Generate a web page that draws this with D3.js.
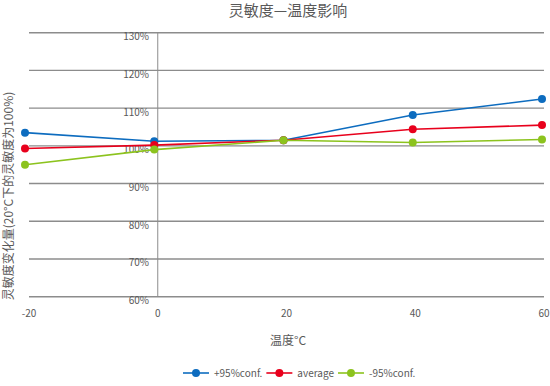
<!DOCTYPE html>
<html>
<head>
<meta charset="utf-8">
<script src="https://cdn.jsdelivr.net/npm/d3@7"></script>
<style>
  body { margin: 0; background: #fff; }
  svg { display: block; font-family: "Noto Sans CJK SC", "Noto Sans", sans-serif; }
</style>
</head>
<body>
<svg id="chart" width="550" height="386"></svg>
<script>
// data
const temps = [-20, 0, 20, 40, 60]
const upper = [103.5, 101.2, 101.5, 108.2, 112.4]
const average = [99.3, 100.2, 101.5, 104.4, 105.5]
const lower = [95.0, 99.0, 101.5, 100.9, 101.7]
const yTicks = [60, 70, 80, 90, 100, 110, 120, 130]
const xTicks = [-20, 0, 20, 40, 60]
const seriesNames = ['+95%conf.', 'average', '-95%conf.']
const seriesColors = ['#0d6cbf', '#e8001c', '#8cc31e']

const svg = d3.select('#chart')
const textColor = '#595959'
const gridColor = '#8c8c8c'

const x = d3.scaleLinear().domain([-20, 60]).range([29, 544])
// markers sit a few px left of the axis labels in the original
const xMark = d3.scaleLinear().domain([-20, 60]).range([25, 542])
const y = d3.scaleLinear().domain([60, 130]).range([296.7, 32.7])

// horizontal gridlines
svg.append('g')
    .selectAll('line')
    .data(yTicks)
    .join('line')
    .attr('x1', x(-20))
    .attr('x2', x(60))
    .attr('y1', d => y(d))
    .attr('y2', d => y(d))
    .style('stroke', gridColor)
    .style('stroke-width', 1.4)

// vertical y axis at x = 0
svg.append('line')
    .attr('x1', x(0)).attr('x2', x(0))
    .attr('y1', y(130)).attr('y2', y(60))
    .style('stroke', gridColor)
    .style('stroke-width', 1)

// y tick labels
svg.append('g')
    .selectAll('text')
    .data(yTicks)
    .join('text')
    .attr('x', 149)
    .attr('y', d => y(d) + 7.5)
    .attr('text-anchor', 'end')
    .style('font-size', '10px')
    .style('fill', textColor)
    .text(d => d + '%')

// x tick labels
svg.append('g')
    .selectAll('text')
    .data(xTicks)
    .join('text')
    .attr('x', d => x(d))
    .attr('y', 317)
    .attr('text-anchor', 'middle')
    .style('font-size', '10px')
    .style('fill', textColor)
    .text(d => d)

// series
const allSeries = [upper, average, lower]
const line = d3.line()
    .x((d, i) => xMark(temps[i]))
    .y(d => y(d))

allSeries.forEach((vals, k) => {
    const g = svg.append('g')
    g.append('path')
        .datum(vals)
        .attr('d', line)
        .style('fill', 'none')
        .style('stroke', seriesColors[k])
        .style('stroke-width', 1.6)
    g.selectAll('circle')
        .data(vals)
        .join('circle')
        .attr('cx', (d, i) => xMark(temps[i]))
        .attr('cy', d => y(d))
        .attr('r', 4)
        .style('fill', seriesColors[k])
})

// titles
svg.append('text')
    .attr('x', 288)
    .attr('y', 16)
    .attr('text-anchor', 'middle')
    .style('font-size', '15px')
    .style('fill', textColor)
    .text('灵敏度—温度影响')

svg.append('text')
    .attr('x', 288)
    .attr('y', 344.5)
    .attr('text-anchor', 'middle')
    .style('font-size', '12px')
    .style('fill', textColor)
    .text('温度°C')

svg.append('text')
    .attr('transform', 'translate(13,196) rotate(-90)')
    .attr('text-anchor', 'middle')
    .style('font-size', '12px')
    .style('fill', textColor)
    .text('灵敏度变化量(20°C下的灵敏度为100%)')

// legend
const legend = svg.append('g')
let lx = 183
const ly = 373
seriesNames.forEach((name, k) => {
    const item = legend.append('g')
    item.append('line')
        .attr('x1', lx).attr('x2', lx + 26)
        .attr('y1', ly).attr('y2', ly)
        .style('stroke', seriesColors[k])
        .style('stroke-width', 1.6)
    item.append('circle')
        .attr('cx', lx + 13).attr('cy', ly)
        .attr('r', 4)
        .style('fill', seriesColors[k])
    const t = item.append('text')
        .attr('x', lx + 31)
        .attr('y', ly + 3.5)
        .style('font-size', '10px')
        .style('fill', textColor)
        .text(name)
    lx = lx + 31 + t.node().getComputedTextLength() + 4
})
</script>
</body>
</html>
